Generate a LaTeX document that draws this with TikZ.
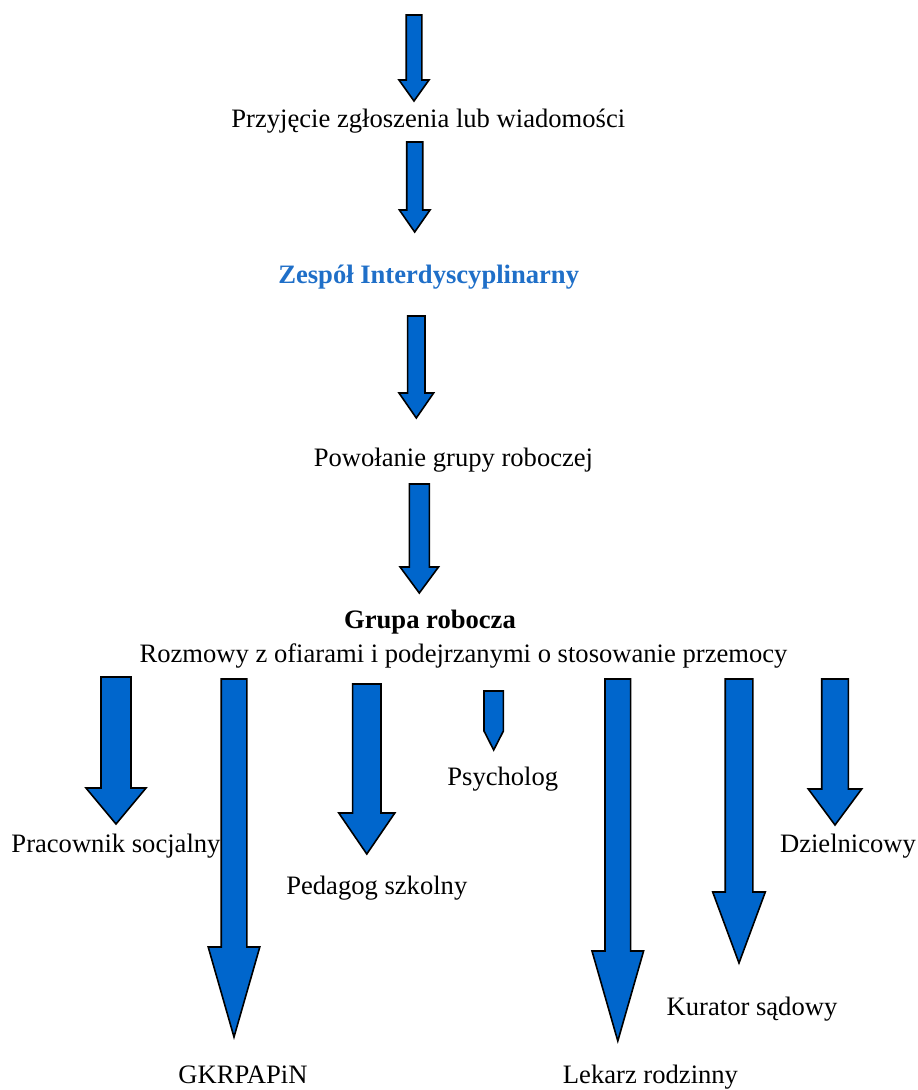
\documentclass[tikz,border=0pt]{standalone}
\usepackage{fontspec}
\setmainfont{Liberation Serif}
\definecolor{niebieski}{HTML}{0066CC}
\definecolor{tytul}{HTML}{1F6FC8}
\tikzset{
  tekst/.style={anchor=base, inner sep=0pt, font=\fontsize{26.6}{32}\selectfont},
  blok/.style={draw=black, fill=niebieski, line width=1.6pt, line join=miter}
}
% strzałka blokowa: x, góra, początek grotu, czubek, pół trzonu, pół grotu
\newcommand{\strzalka}[6]{%
  \draw[blok] (#1-#5,#2) -- (#1+#5,#2) -- (#1+#5,#3) -- (#1+#6,#3)
    -- (#1,#4) -- (#1-#6,#3) -- (#1-#5,#3) -- cycle;}
\begin{document}
\begin{tikzpicture}[x=1pt, y=-1pt]
\useasboundingbox (0,0) rectangle (918,1090);
% ścieżka główna
\strzalka{414}{15}{80}{101}{7.8}{15}
\node[tekst] (przyjecie) at (428.3,127) {Przyjęcie zgłoszenia lub wiadomości};
\strzalka{414.7}{142}{210}{232}{8}{15.3}
\node[tekst, font=\fontsize{26.6}{32}\selectfont\bfseries, text=tytul] (zespol) at (428.7,283) {Zespół Interdyscyplinarny};
\strzalka{416.3}{316}{393}{418}{8.7}{17.3}
\node[tekst] (powolanie) at (453.5,466) {Powołanie grupy roboczej};
\strzalka{419.3}{484}{567}{593}{10}{19.2}
\node[tekst, font=\fontsize{26.6}{32}\selectfont\bfseries] (grupa) at (430,628) {Grupa robocza};
\node[tekst] (rozmowy) at (463.5,662.5) {Rozmowy z ofiarami i podejrzanymi o stosowanie przemocy};
% rozgałęzienia
\strzalka{116}{677}{788}{824}{15}{30}
\node[tekst] (pracownik) at (116,852) {Pracownik socjalny};
\strzalka{234}{679}{947}{1037}{12.8}{25.8}
\node[tekst] (gkrpapin) at (243,1083) {GKRPAPiN};
\strzalka{366.8}{684}{813}{854}{14.2}{28}
\node[tekst] (pedagog) at (376.8,894) {Pedagog szkolny};
\strzalka{493.7}{691}{731}{750}{9.7}{9.7}
\node[tekst] (psycholog) at (502.8,785) {Psycholog};
\strzalka{617.8}{679}{951}{1041}{12.8}{25.8}
\node[tekst] (lekarz) at (650.5,1083) {Lekarz rodzinny};
\strzalka{739}{679}{892}{963}{13.8}{26.3}
\node[tekst] (kurator) at (752,1015) {Kurator sądowy};
\strzalka{835}{679}{789}{825}{13.3}{26.7}
\node[tekst] (dzielnicowy) at (848,852) {Dzielnicowy};
\end{tikzpicture}
\end{document}
